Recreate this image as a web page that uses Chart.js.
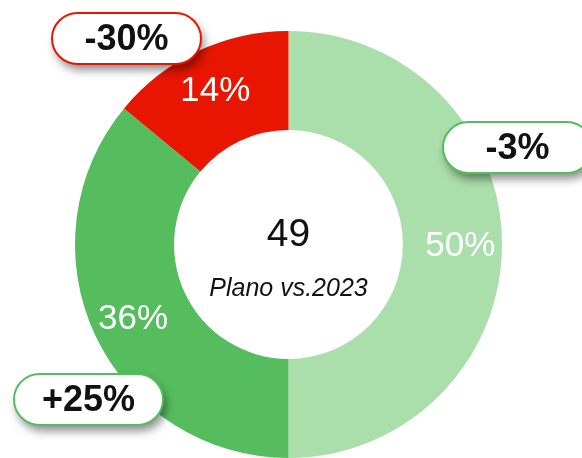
<!DOCTYPE html>
<html>
<head>
<meta charset="utf-8">
<script src="https://cdn.jsdelivr.net/npm/chart.js@4/dist/chart.umd.min.js"></script>
<style>
  html, body { margin: 0; padding: 0; background: #fff; }
  #wrap { width: 582px; height: 458px; position: relative; }
</style>
</head>
<body>
<div id="wrap"><canvas id="c"></canvas></div>
<script>
// Segment names and shares, clockwise from the top
const categories = ['Segmento A', 'Segmento B', 'Segmento C'];
const shares = [50, 36, 14];
// Change versus the previous year for each segment
const changes = ['-3%', '+25%', '-30%'];
// Centre figure and caption
const centerValue = '49';
const centerCaption = 'Plano vs.2023';

const sliceColors = ['#aadeab', '#55bd5e', '#e81600'];
const calloutBorders = ['#55bd5e', '#55bd5e', '#e81600'];

const FONT = '"Liberation Sans", Arial, sans-serif';

// Percentage labels inside each slice plus the centre text
const sliceLabels = {
  id: 'sliceLabels',
  afterDatasetsDraw(chart) {
    const ctx = chart.ctx;
    const meta = chart.getDatasetMeta(0);
    const data = chart.data.datasets[0].data;
    const total = data.reduce((a, b) => a + b, 0);
    ctx.save();
    ctx.fillStyle = '#ffffff';
    ctx.font = '35px ' + FONT;
    ctx.textAlign = 'center';
    ctx.textBaseline = 'middle';
    meta.data.forEach((arc, i) => {
      const mid = (arc.startAngle + arc.endAngle) / 2;
      const r = arc.outerRadius * 0.805;
      const x = arc.x + Math.cos(mid) * r;
      const y = arc.y + Math.sin(mid) * r + 2;
      ctx.fillText(Math.round(data[i] / total * 100) + '%', x, y);
    });
    const a0 = meta.data[0];
    ctx.fillStyle = '#111111';
    ctx.font = '39px ' + FONT;
    ctx.fillText(centerValue, a0.x, a0.y - 9);
    ctx.font = 'italic 25px ' + FONT;
    ctx.fillText(centerCaption, a0.x, a0.y + 45);
    ctx.restore();
  }
};

// Rounded callout boxes carrying the year-on-year change
const callouts = {
  id: 'callouts',
  afterDraw(chart, args, opts) {
    const ctx = chart.ctx;
    const meta = chart.getDatasetMeta(0);
    const cx = meta.data[0].x, cy = meta.data[0].y;
    const w = opts.width, h = opts.height, rad = h / 2;
    changes.forEach((txt, i) => {
      const [ox, oy] = opts.offsets[i];
      const x = cx + ox - w / 2, y = cy + oy - h / 2;
      ctx.save();
      ctx.beginPath();
      ctx.roundRect(x, y, w, h, rad);
      ctx.shadowColor = 'rgba(0,0,0,0.45)';
      ctx.shadowBlur = 10;
      ctx.shadowOffsetX = 3;
      ctx.shadowOffsetY = 6;
      ctx.fillStyle = '#ffffff';
      ctx.fill();
      ctx.shadowColor = 'transparent';
      ctx.lineWidth = 2;
      ctx.strokeStyle = calloutBorders[i];
      ctx.stroke();
      ctx.fillStyle = '#111111';
      ctx.font = 'bold 36px ' + FONT;
      ctx.textAlign = 'center';
      ctx.textBaseline = 'middle';
      ctx.fillText(txt, cx + ox, cy + oy + 2);
      ctx.restore();
    });
  }
};

new Chart(document.getElementById('c'), {
  type: 'doughnut',
  data: {
    labels: categories,
    datasets: [{
      data: shares,
      backgroundColor: sliceColors,
      borderWidth: 0
    }]
  },
  options: {
    responsive: true,
    maintainAspectRatio: false,
    animation: false,
    cutout: '53.6%',
    layout: { padding: { top: 31, bottom: 0, left: 0, right: 5 } },
    plugins: {
      legend: { display: false },
      tooltip: { enabled: false },
      callouts: {
        width: 149,
        height: 51,
        offsets: [[229, -97], [-200, 155], [-162, -206]]
      }
    }
  },
  plugins: [sliceLabels, callouts]
});
</script>
</body>
</html>
